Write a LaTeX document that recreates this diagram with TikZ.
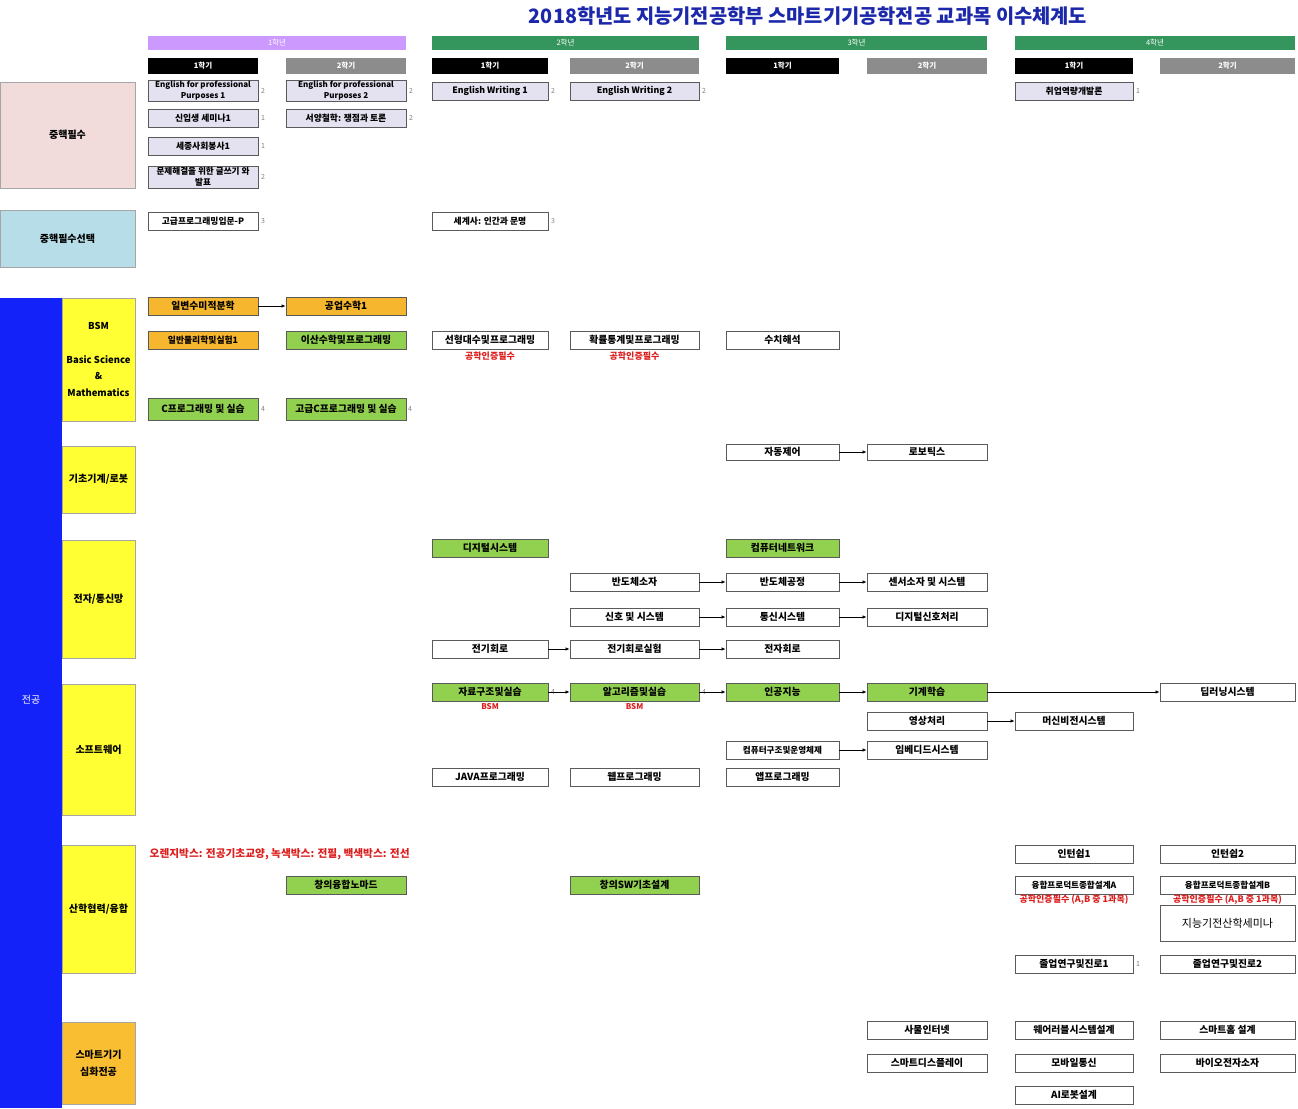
\documentclass[tikz,border=0pt]{standalone}
\usepackage{fontspec}
\setmainfont{Noto Sans CJK KR}
\usepackage{xcolor}
\usetikzlibrary{arrows.meta,positioning}
\definecolor{titleblue}{RGB}{28,40,170}
\definecolor{yearpurple}{RGB}{204,153,255}
\definecolor{yeargreen}{RGB}{52,150,92}
\definecolor{semgray}{RGB}{140,140,140}
\definecolor{corepink}{RGB}{242,220,219}
\definecolor{corecyan}{RGB}{183,222,232}
\definecolor{majorblue}{RGB}{20,34,250}
\definecolor{catyellow}{RGB}{255,255,51}
\definecolor{catorange}{RGB}{250,190,50}
\definecolor{corelav}{RGB}{228,225,240}
\definecolor{courseorange}{RGB}{246,182,46}
\definecolor{coursegreen}{RGB}{146,208,80}
\definecolor{boxedge}{RGB}{90,90,90}
\definecolor{notered}{RGB}{220,30,30}

\begin{document}
\begin{tikzpicture}[x=1pt, y=-1pt,
  course/.style={draw=boxedge, line width=0.9pt, fill=white, minimum height=18pt,
                 inner sep=1pt, align=center, font=\bfseries\fontsize{9.8}{10}\selectfont},
  core/.style={course, fill=corelav},
  basic/.style={course, fill=courseorange},
  must/.style={course, fill=coursegreen},
  w1/.style={minimum width=110pt}, w2/.style={minimum width=120pt},
  w3/.style={minimum width=116pt}, w4/.style={minimum width=129pt},
  w5/.style={minimum width=113pt}, w6/.style={minimum width=120pt},
  w7/.style={minimum width=118pt}, w8/.style={minimum width=135pt},
  small/.style={font=\bfseries\fontsize{8.8}{9}\selectfont},
  credit/.style={font=\fontsize{7}{7}\selectfont, text=gray, inner sep=0.5pt},
  note/.style={text=notered, inner sep=0.5pt, font=\bfseries\fontsize{9}{9}\selectfont},
  cat/.style={draw=gray!70, line width=0.6pt, align=center, inner sep=1pt,
              font=\bfseries\fontsize{10}{12}\selectfont},
  yearbar/.style={minimum height=14pt, inner sep=0pt, text=white, font=\fontsize{7.5}{8}\selectfont},
  sembar/.style={minimum height=16pt, inner sep=0pt, text=white, font=\bfseries\fontsize{7.5}{8}\selectfont},
  arr/.style={-{Latex[length=4pt,width=3.5pt]}, line width=0.6pt}
]
\useasboundingbox (0,0) rectangle (1298,1108);

\node[text=titleblue, font=\bfseries\fontsize{19.8}{22}\selectfont] (title) at (808,16)
  {2018학년도 지능기전공학부 스마트기기공학전공 교과목 이수체계도};

% years and semesters
\node[yearbar, fill=yearpurple, minimum width=258pt] (y1) at (277,43) {1학년};
\node[yearbar, fill=yeargreen,  minimum width=267pt] (y2) at (565.5,43) {2학년};
\node[yearbar, fill=yeargreen,  minimum width=261pt] (y3) at (856.5,43) {3학년};
\node[yearbar, fill=yeargreen,  minimum width=280pt] (y4) at (1155,43) {4학년};

\node[sembar, fill=black,   w1] (s11) at (203,66)    {1학기};
\node[sembar, fill=semgray, w2] (s12) at (346,66)    {2학기};
\node[sembar, fill=black,   w3] (s21) at (490,66)    {1학기};
\node[sembar, fill=semgray, w4] (s22) at (634.5,66)  {2학기};
\node[sembar, fill=black,   w5] (s31) at (782.5,66)  {1학기};
\node[sembar, fill=semgray, w6] (s32) at (927,66)    {2학기};
\node[sembar, fill=black,   w7] (s41) at (1074,66)   {1학기};
\node[sembar, fill=semgray, w8] (s42) at (1227.5,66) {2학기};

% categories
\node[cat, fill=corepink, minimum width=135pt, minimum height=106pt] (core) at (67.5,135) {중핵필수};
\node[cat, fill=corecyan, minimum width=135pt, minimum height=57pt] (coresel) at (67.5,238.5) {중핵필수선택};
\node[fill=majorblue, minimum width=62pt, minimum height=810pt, inner sep=0pt] (major) at (31,703) {};
\node[text=white, font=\fontsize{10}{10}\selectfont] (majorlbl) at (31,700) {전공};
\node[cat, fill=catyellow, minimum width=73pt, minimum height=123pt, font=\bfseries\fontsize{9.5}{16.5}\selectfont]
  (bsm) at (98.5,359.5) {BSM\\[17pt]Basic Science\\\&\\Mathematics};
\node[cat, fill=catyellow, minimum width=73pt, minimum height=67pt]  (mech)  at (98.5,479.5) {기초기계/로봇};
\node[cat, fill=catyellow, minimum width=73pt, minimum height=118pt] (elec)  at (98.5,599)   {전자/통신망};
\node[cat, fill=catyellow, minimum width=73pt, minimum height=131pt] (sw)    at (98.5,749.5) {소프트웨어};
\node[cat, fill=catyellow, minimum width=73pt, minimum height=128pt] (ind)   at (98.5,909)   {산학협력/융합};
\node[cat, fill=catorange, minimum width=73pt, minimum height=82pt, font=\bfseries\fontsize{10}{17}\selectfont]
  (smart) at (98.5,1063) {스마트기기\\심화전공};

% core courses
\node[core, w1, font=\bfseries\fontsize{8}{11}\selectfont] (efp1) at (203,91) {English for professional\\Purposes 1};
\node[core, w2, font=\bfseries\fontsize{8}{11}\selectfont] (efp2) at (346,91) {English for professional\\Purposes 2};
\node[core, w3, small] (ew1) at (490,91) {English Writing 1};
\node[core, w4, small] (ew2) at (634.5,91) {English Writing 2};
\node[core, w7, small] (career) at (1074,91) {취업역량개발론};
\node[core, w1, small] (sem1) at (203,118) {신입생 세미나1};
\node[core, w2, small] (philo) at (346,118) {서양철학: 쟁점과 토론};
\node[core, w1, small] (serv) at (203,146) {세종사회봉사1};
\node[core, w1, minimum height=22pt, font=\bfseries\fontsize{8.6}{11}\selectfont] (write) at (203,177) {문제해결을 위한 글쓰기 와\\발표};
\node[course, w1, small] (advprog) at (203,221) {고급프로그래밍입문-P};
\node[course, w3, small] (world) at (490,221) {세계사: 인간과 문명};

\node[credit, right=2pt of efp1] (efp1c) {2};
\node[credit, right=2pt of efp2] (efp2c) {2};
\node[credit, right=2pt of ew1] (ew1c) {2};
\node[credit, right=2pt of ew2] (ew2c) {2};
\node[credit, right=2pt of career] (careerc) {1};
\node[credit, right=2pt of sem1] (sem1c) {1};
\node[credit, right=2pt of philo] (philoc) {2};
\node[credit, right=2pt of serv] (servc) {1};
\node[credit, right=2pt of write] (writec) {2};
\node[credit, right=2pt of advprog] (advprogc) {3};
\node[credit, right=2pt of world] (worldc) {3};

% BSM
\node[basic, w1] (calc) at (203,306) {일변수미적분학};
\node[basic, w2] (emath) at (346,306) {공업수학1};
\node[basic, w1, small] (phys) at (203,340) {일반물리학및실험1};
\node[must, w2] (disc) at (346,340) {이산수학및프로그래밍};
\node[course, w3] (linalg) at (490,340) {선형대수및프로그래밍};
\node[course, w4] (prob) at (634.5,340) {확률통계및프로그래밍};
\node[course, w5] (numer) at (782.5,340) {수치해석};
\node[note, below=2pt of linalg] (linalgn) {공학인증필수};
\node[note, below=2pt of prob] (probn) {공학인증필수};
\node[must, w1, minimum height=22pt] (cprog) at (203,409) {C프로그래밍 및 실습};
\node[must, w2, minimum height=22pt] (advc) at (346,409) {고급C프로그래밍 및 실습};
\node[credit, right=2pt of cprog] (cprogc) {4};
\node[credit, right=1pt of advc] (advcc) {4};
\draw[arr] (calc) -- (emath);

% mechanics / robots
\node[course, w5, minimum height=16pt] (ctrl) at (782.5,452) {자동제어};
\node[course, w6, minimum height=16pt] (robot) at (927,452) {로보틱스};
\draw[arr] (ctrl) -- (robot);

% electronics / networks
\node[must, w3] (digi) at (490,548) {디지털시스템};
\node[must, w5] (net) at (782.5,548) {컴퓨터네트워크};
\node[course, w4] (semi) at (634.5,582) {반도체소자};
\node[course, w5] (fab) at (782.5,582) {반도체공정};
\node[course, w6] (sensor) at (927,582) {센서소자 및 시스템};
\node[course, w4] (sig) at (634.5,617) {신호 및 시스템};
\node[course, w5] (comm) at (782.5,617) {통신시스템};
\node[course, w6] (dsp) at (927,617) {디지털신호처리};
\node[course, w3] (circ) at (490,649) {전기회로};
\node[course, w4] (circlab) at (634.5,649) {전기회로실험};
\node[course, w5] (elecc) at (782.5,649) {전자회로};
\draw[arr] (semi) -- (fab);
\draw[arr] (fab) -- (sensor);
\draw[arr] (sig) -- (comm);
\draw[arr] (comm) -- (dsp);
\draw[arr] (circ) -- (circlab);
\draw[arr] (circlab) -- (elecc);

% software
\node[must, w3] (ds) at (490,692) {자료구조및실습};
\node[must, w4] (algo) at (634.5,692) {알고리즘및실습};
\node[must, w5] (ai) at (782.5,692) {인공지능};
\node[must, w6] (ml) at (927,692) {기계학습};
\node[course, w8] (deep) at (1227.5,692) {딥러닝시스템};
\node[note, below=1pt of ds, font=\bfseries\fontsize{8}{8}\selectfont] (dsn) {BSM};
\node[note, below=1pt of algo, font=\bfseries\fontsize{8}{8}\selectfont] (algon) {BSM};
\node[credit, right=2pt of ds] (dsc) {4};
\node[credit, right=2pt of algo] (algoc) {4};
\node[course, w6] (vision) at (927,721) {영상처리};
\node[course, w7] (mvision) at (1074,721) {머신비전시스템};
\node[course, w5, font=\bfseries\fontsize{8.6}{9}\selectfont] (arch) at (782.5,750) {컴퓨터구조및운영체제};
\node[course, w6] (embed) at (927,750) {임베디드시스템};
\node[course, w3] (java) at (490,777) {JAVA프로그래밍};
\node[course, w4] (web) at (634.5,777) {웹프로그래밍};
\node[course, w5] (app) at (782.5,777) {앱프로그래밍};
\draw[arr] (ds) -- (algo);
\draw[arr] (algo) -- (ai);
\draw[arr] (ai) -- (ml);
\draw[arr] (ml) -- (deep);
\draw[arr] (vision) -- (mvision);
\draw[arr] (arch) -- (embed);

% industry / convergence
\node[note, anchor=west, font=\bfseries\fontsize{10.7}{11}\selectfont] (legend) at (149,854)
  {오렌지박스: 전공기초교양, 녹색박스: 전필, 백색박스: 전선};
\node[course, w7] (intern1) at (1074,854) {인턴쉽1};
\node[course, w8] (intern2) at (1227.5,854) {인턴쉽2};
\node[must, w2] (nomad) at (346,885) {창의융합노마드};
\node[must, w4] (swdesign) at (634.5,885) {창의SW기초설계};
\node[course, w7, font=\bfseries\fontsize{8.6}{9}\selectfont] (capa) at (1074,885) {융합프로덕트종합설계A};
\node[course, w8, font=\bfseries\fontsize{8.6}{9}\selectfont] (capb) at (1227.5,885) {융합프로덕트종합설계B};
\node[note, below=0pt of capa] (capan) {공학인증필수 (A,B 중 1과목)};
\node[note, below=0pt of capb] (capbn) {공학인증필수 (A,B 중 1과목)};
\node[course, w8, minimum height=36pt, font=\fontsize{11}{11}\selectfont] (indsem) at (1227.5,923) {지능기전산학세미나};
\node[course, w7] (grad1) at (1074,964) {졸업연구및진로1};
\node[course, w8] (grad2) at (1227.5,964) {졸업연구및진로2};
\node[credit, right=2pt of grad1] (grad1c) {1};

% smart devices
\node[course, w6] (iot) at (927,1030) {사물인터넷};
\node[course, w7] (wear) at (1074,1030) {웨어러블시스템설계};
\node[course, w8] (home) at (1227.5,1030) {스마트홈 설계};
\node[course, w6] (disp) at (927,1063) {스마트디스플레이};
\node[course, w7] (mobile) at (1074,1063) {모바일통신};
\node[course, w8] (bio) at (1227.5,1063) {바이오전자소자};
\node[course, w7] (airobot) at (1074,1095) {AI로봇설계};
\end{tikzpicture}
\end{document}
